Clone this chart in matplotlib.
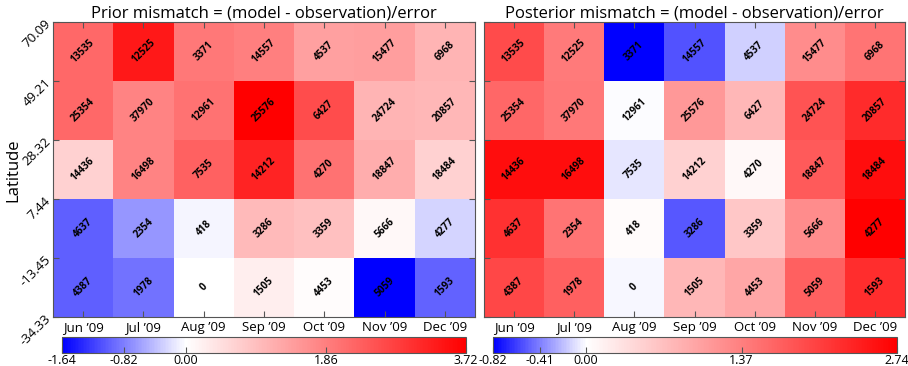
import matplotlib
matplotlib.use("Agg")
import matplotlib.pyplot as plt
import numpy as np
from matplotlib.colors import LinearSegmentedColormap, Normalize

plt.rcParams["font.family"] = ["Open Sans", "DejaVu Sans"]

months = ["Jun \u201909", "Jul \u201909", "Aug \u201909", "Sep \u201909",
          "Oct \u201909", "Nov \u201909", "Dec \u201909"]
lat_edges = [70.09, 49.21, 28.32, 7.44, -13.45, -34.33]

# number of observations per cell (rows top -> bottom)
counts = [
    [13535, 12525, 3371, 14557, 4537, 15477, 6968],
    [25354, 37970, 12961, 25576, 6427, 24724, 20857],
    [14436, 16498, 7535, 14212, 4270, 18847, 18484],
    [4637, 2354, 418, 3286, 3359, 5666, 4277],
    [4387, 1978, 0, 1505, 4453, 5059, 1593],
]

# mismatch values
prior = [
    [2.20, 3.35, 1.97, 1.86, 1.38, 1.40, 1.10],
    [2.20, 1.80, 2.05, 3.72, 2.60, 1.10, 1.05],
    [0.67, 1.80, 2.30, 3.20, 2.05, 1.20, 0.67],
    [-1.02, -0.66, -0.05, 1.00, 0.93, 0.10, -0.26],
    [-1.02, -0.90, 0.00, 0.26, 0.04, -1.64, -1.00],
]
posterior = [
    [1.92, 1.42, -0.82, -0.55, -0.15, 1.23, 1.50],
    [1.64, 1.45, 0.00, 1.10, 0.77, 1.84, 2.27],
    [2.60, 2.60, -0.08, 0.50, 0.08, 1.78, 2.60],
    [2.20, 1.50, 0.05, -0.53, 0.60, 1.23, 2.74],
    [1.97, 1.70, -0.02, 0.77, 0.96, 1.70, 2.25],
]

W, H = 908, 366
fig = plt.figure(figsize=(W / 100, H / 100), dpi=100)


def px_axes(left, right, top, bottom):
    return fig.add_axes([left / W, (H - bottom) / H, (right - left) / W, (bottom - top) / H])


def panel(ax, cax, values, title, show_y):
    values = np.array(values)
    vmin, vmax = values.min(), values.max()
    frac = -vmin / (vmax - vmin)
    cmap = LinearSegmentedColormap.from_list(
        "mis", [(0, (0, 0, 1)), (frac, (1, 1, 1)), (1, (1, 0, 0))])
    norm = Normalize(vmin=vmin, vmax=vmax)
    x_edges = np.arange(len(months) + 1)
    mesh = ax.pcolormesh(x_edges, lat_edges, values, cmap=cmap, norm=norm)
    for i, row in enumerate(counts):
        for j, c in enumerate(row):
            yc = (lat_edges[i] + lat_edges[i + 1]) / 2
            ax.text(j + 0.5, yc, str(c), rotation=45, ha="center", va="center",
                    fontsize=7.2, fontweight="bold", color="black")
    ax.set_xlim(0, len(months))
    ax.set_ylim(lat_edges[-1], lat_edges[0])
    ax.set_xticks(x_edges[:-1] + 0.5)
    ax.set_xticklabels(months, fontsize=9.5)
    ax.set_yticks(lat_edges)
    if show_y:
        ax.set_yticklabels([f"{v:.2f}" for v in lat_edges], rotation=45, fontsize=9.5,
                           rotation_mode="anchor", ha="right", va="center")
    else:
        ax.set_yticklabels([])
    ax.tick_params(direction="in", top=True, right=True, length=4, color="#555555",
                   pad=3)
    for s in ax.spines.values():
        s.set_color("#555555")
    ax.set_title(title, fontsize=12, pad=3)

    cb = fig.colorbar(mesh, cax=cax, orientation="horizontal")
    ticks = [vmin, vmin / 2, 0.0, vmax / 2, vmax]
    cb.set_ticks(ticks)
    cb.set_ticklabels([f"{t:.2f}" for t in ticks])
    cb.ax.tick_params(labelsize=9, direction="in", length=4, color="#555555", pad=1)
    cb.outline.set_edgecolor("#555555")


ax1 = px_axes(53, 475, 22, 317)
ax2 = px_axes(484, 905, 22, 317)
cax1 = px_axes(62, 466, 337, 353)
cax2 = px_axes(493, 897, 337, 353)

panel(ax1, cax1, prior, "Prior mismatch = (model - observation)/error", True)
panel(ax2, cax2, posterior, "Posterior mismatch = (model - observation)/error", False)

fig.text(13 / W, 1 - 170 / H, "Latitude", rotation=90, fontsize=12,
         ha="center", va="center")

fig.savefig("out.png", dpi=100)
